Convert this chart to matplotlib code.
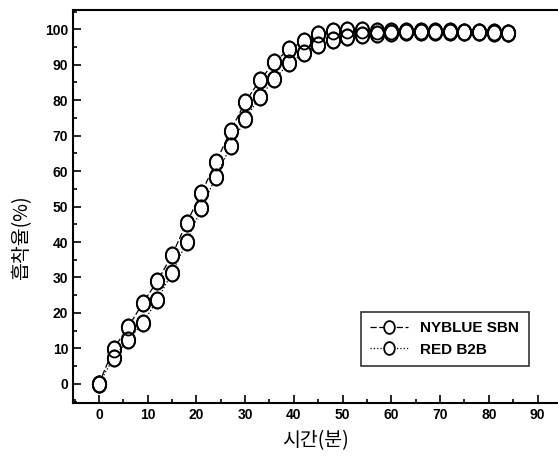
import numpy as np
import matplotlib
matplotlib.use('Agg')
import matplotlib.pyplot as plt
from matplotlib.ticker import MultipleLocator
from matplotlib.path import Path
from matplotlib.transforms import Affine2D

plt.rcParams['font.family'] = ['Liberation Sans', 'Noto Sans CJK KR', 'DejaVu Sans']

# time (min)
time_min = [0, 3, 6, 9, 12, 15, 18, 21, 24, 27, 30, 33, 36, 39, 42, 45, 48, 51, 54,
            57, 60, 63, 66, 69, 72, 75, 78, 81, 84]
nyblue_sbn = [0, 9.9, 16.0, 22.8, 29.0, 36.3, 45.4, 53.8, 62.5, 71.3, 79.4, 85.6, 90.7,
              94.4, 96.6, 98.6, 99.5, 99.7, 99.7, 99.6, 99.5, 99.5, 99.5, 99.4, 99.4,
              99.3, 99.3, 99.2, 99.0]
red_b2b = [0, 7.3, 12.4, 17.2, 23.7, 31.3, 40.0, 49.5, 58.3, 67.0, 74.6, 80.9, 85.9,
           90.4, 93.2, 95.5, 96.9, 97.7, 98.3, 98.8, 99.0, 99.1, 99.2, 99.2, 99.2,
           99.2, 99.1, 99.0, 98.9]
xticks = [0, 10, 20, 30, 40, 50, 60, 70, 80, 90]
yticks = [0, 10, 20, 30, 40, 50, 60, 70, 80, 90, 100]

# slightly tall open ellipse, like the scanned circles
ellipse = Affine2D().scale(1.0, 1.2).transform_path(Path.unit_circle())

fig = plt.figure(figsize=(5.58, 4.59), dpi=100)
ax = fig.add_axes([0.131, 0.122, 0.869, 0.856])

mk = dict(marker=ellipse, markersize=11.5, markerfacecolor='white', markeredgecolor='black',
          markeredgewidth=1.3, color='black', linewidth=0.9)
ax.plot(time_min, nyblue_sbn, dashes=(5, 2), label='NYBLUE SBN', **mk)
ax.plot(time_min, red_b2b, linestyle=':', label='RED B2B', **mk)
# outlines again on top so overlapping circles both stay visible
for ys in (nyblue_sbn, red_b2b):
    ax.plot(time_min, ys, linestyle='none', marker=ellipse, markersize=11.5,
            markerfacecolor='none', markeredgecolor='black', markeredgewidth=1.3)

ax.set_xlim(-5.3, 94.2)
ax.set_ylim(-5.4, 105.4)
ax.set_xticks(xticks)
ax.set_yticks(yticks)
ax.xaxis.set_minor_locator(MultipleLocator(5))
ax.yaxis.set_minor_locator(MultipleLocator(5))
ax.tick_params(which='both', direction='in', width=1.2, labelsize=10)
ax.tick_params(which='major', length=6)
ax.tick_params(which='minor', length=3)
for lab in ax.get_xticklabels() + ax.get_yticklabels():
    lab.set_fontweight('bold')
for s in ['left', 'bottom', 'top']:
    ax.spines[s].set_linewidth(1.5)
ax.spines['right'].set_visible(False)

ax.set_xlabel('시간(분)', fontsize=14, family=['Noto Sans CJK KR', 'DejaVu Sans'], labelpad=6)
ax.set_ylabel('흡착율(%)', fontsize=14, family=['Noto Sans CJK KR', 'DejaVu Sans'], labelpad=10)
ax.yaxis.set_label_coords(-0.085, 0.42)

h, l = ax.get_legend_handles_labels()
leg = ax.legend(h[:2], l[:2], loc='lower right', bbox_to_anchor=(0.955, 0.075), frameon=True,
                fancybox=False, edgecolor='black', fontsize=11, handlelength=2.5, borderpad=0.6,
                labelspacing=0.5, markerscale=0.8)
leg.get_frame().set_linewidth(1.2)
for t in leg.get_texts():
    t.set_fontweight('bold')

fig.savefig('out.png', dpi=100)
